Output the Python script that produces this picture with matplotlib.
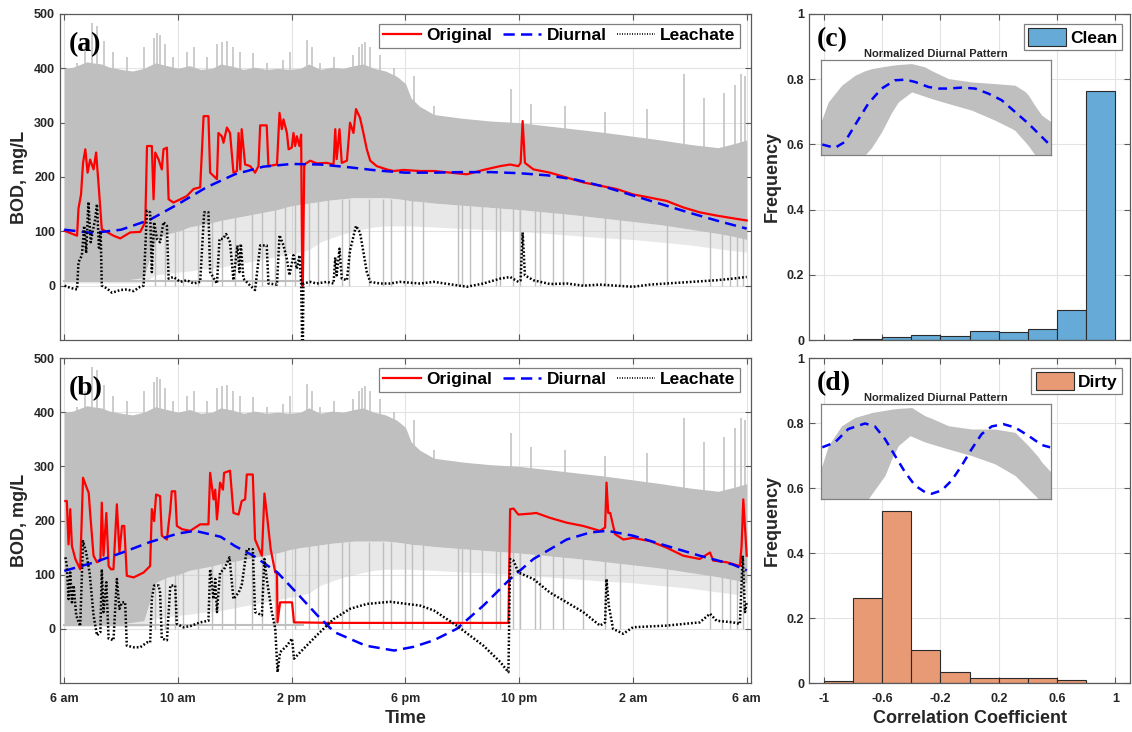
"""BOD time series with diurnal / leachate split and correlation histograms."""

import matplotlib
matplotlib.use('Agg')
import matplotlib.pyplot as plt
from matplotlib.patches import Patch
from matplotlib.lines import Line2D

plt.rcParams['font.family'] = ['Liberation Sans', 'DejaVu Sans']
plt.rcParams['font.weight'] = 'bold'

# ---------------- data (hours after 6 am) ----------------
# gray ensemble of daily profiles, as envelopes
gray_t = [0, 0.3, 0.6, 0.8, 1.0, 1.3, 1.6, 2.0, 2.4, 2.8, 3.2, 3.6, 4.0, 4.4, 4.8,
          5.2, 5.5, 5.9, 6.3, 6.7, 7.1, 7.5, 7.9, 8.3, 8.6, 9.0, 9.4, 9.8, 10.2, 10.5,
          10.9, 11.3, 11.7, 12.0, 12.2, 12.5, 13.0, 14.0, 15.0, 16.0, 17.0, 18.0, 19.0,
          20.0, 21.0, 22.0, 23.0, 23.6, 24.0]
gray_top = [400, 402, 408, 412, 410, 408, 402, 398, 395, 400, 410, 405, 400, 405, 398,
            400, 408, 404, 398, 402, 398, 400, 398, 400, 408, 398, 402, 400, 405, 408,
            400, 395, 385, 372, 345, 330, 315, 308, 303, 300, 294, 288, 282, 275, 268,
            260, 254, 262, 268]
gray_low = [10, 10, 10, 10, 10, 10, 10, 10, 12, 15, 85, 95, 100, 108, 112,
            116, 120, 124, 128, 132, 136, 140, 146, 150, 152, 155, 158, 160, 162, 162,
            162, 162, 160, 158, 156, 155, 152, 148, 144, 140, 135, 130, 124, 118, 112,
            104, 96, 90, 85]
gray_sparse = [5, 5, 5, 5, 5, 5, 5, 5, 5, 5, 20, 22, 25, 27, 30,
               32, 34, 38, 42, 46, 50, 54, 58, 62, 66, 80, 88, 95, 100, 104,
               108, 110, 110, 110, 110, 109, 108, 105, 103, 100, 96, 92, 88, 85, 80,
               75, 68, 64, 62]
floor_t = [0, 8.4]
floor_v = [8, 8]
spike_t = [0.45, 0.74, 0.97, 1.15, 1.38, 1.73, 2.20, 2.79, 3.14, 3.26, 3.37, 3.55, 3.84,
           4.31, 4.55, 5.01, 5.37, 5.54, 5.72, 5.95, 6.19, 6.65, 7.12, 7.71, 7.94, 8.53,
           8.71, 9.0, 9.47, 10.17, 10.35, 10.46, 10.58, 10.76, 11.11, 11.58, 12.3, 13.0,
           15.7, 16.4, 17.6, 19.0, 20.5, 21.8, 22.5, 23.2, 23.6, 23.8, 23.95]
spike_top = [410, 440, 483, 478, 450, 430, 420, 440, 455, 465, 462, 445, 420,
             430, 440, 420, 445, 448, 450, 440, 430, 428, 410, 415, 430, 452,
             440, 410, 420, 425, 440, 445, 448, 440, 425, 400, 385, 330,
             362, 335, 330, 320, 325, 390, 345, 355, 370, 390, 385]
drop_t = [3.20, 3.55, 3.90, 4.19, 4.72, 5.19, 5.54, 6.01, 6.60, 6.95, 7.42, 7.77,
          8.12, 8.59, 8.94, 9.29, 9.76, 10.0, 10.7, 11.2, 11.5, 12.0, 12.22, 12.63,
          13.86, 13.98, 14.27, 14.68, 15.20, 15.32, 15.79, 16.03, 16.55, 16.73, 17.20,
          17.55, 18.25, 19.02, 19.54, 21.18, 22.71, 23.12, 23.42, 23.65, 23.88]

# (a) clean day
a_orig_t = [0.01, 0.45, 0.50, 0.59, 0.66, 0.74, 0.82, 0.91, 1.03, 1.12, 1.21, 1.32, 1.73,
            1.97, 2.32, 2.67, 2.85, 2.91, 3.08, 3.14, 3.20, 3.32, 3.43, 3.49, 3.61, 3.67,
            3.84, 4.08, 4.31, 4.55, 4.78, 4.90, 5.07, 5.13, 5.37, 5.42, 5.54, 5.60, 5.72,
            5.83, 5.95, 6.07, 6.13, 6.19, 6.24, 6.36, 6.54, 6.71, 6.83, 6.89, 7.12, 7.18,
            7.48, 7.57, 7.65, 7.71, 7.83, 7.89, 8.00, 8.06, 8.12, 8.18, 8.27, 8.33, 8.37,
            8.39, 8.44, 8.65, 8.88, 9.23, 9.47, 9.53, 9.58, 9.68, 9.76, 9.94, 10.05, 10.17,
            10.26, 10.40, 10.52, 10.64, 10.76, 10.99, 11.34, 11.58, 11.93, 12.51, 13.0,
            14.16, 14.74, 15.33, 15.68, 15.97, 16.05, 16.12, 16.2, 16.5, 17.08, 17.67,
            18.25, 18.84, 19.42, 20.0, 20.6, 21.18, 21.77, 22.35, 22.94, 23.52, 24.0]
a_orig = [101, 92, 142, 168, 226, 251, 208, 232, 214, 245, 184, 104, 92,
          87, 98, 99, 117, 257, 257, 159, 245, 232, 214, 251, 254, 159,
          153, 159, 165, 178, 181, 312, 312, 208, 196, 281, 275, 263, 291,
          281, 208, 211, 281, 214, 288, 223, 220, 208, 220, 295, 295, 220,
          223, 318, 288, 306, 281, 251, 254, 281, 257, 275, 257, 278, 0,
          0, 223, 230, 225, 226, 223, 288, 233, 288, 226, 230, 300, 281,
          325, 309, 281, 251, 230, 220, 214, 211, 213, 211, 211,
          205, 213, 220, 223, 220, 226, 303, 226, 214, 208, 199,
          190, 184, 178, 168, 162, 156, 144, 135, 129, 124, 120]
a_diur_t = list(range(0, 25))
a_diur = [103, 97, 103, 121, 150, 181, 205, 219, 224, 223, 218, 212, 208,
          208, 209, 209, 207, 203, 195, 182, 166, 150, 134, 119, 105]
a_leach_t = [0.01, 0.21, 0.45, 0.50, 0.62, 0.70, 0.77, 0.85, 0.93, 1.00, 1.08, 1.15, 1.22,
             1.28, 1.32, 1.50, 1.68, 1.97, 2.20, 2.44, 2.67, 2.79, 2.91, 3.02, 3.08, 3.16,
             3.26, 3.37, 3.49, 3.61, 3.67, 3.84, 4.08, 4.31, 4.55, 4.78, 4.92, 5.07, 5.13,
             5.37, 5.46, 5.58, 5.69, 5.83, 5.95, 6.09, 6.16, 6.21, 6.30, 6.54, 6.71, 6.89,
             7.12, 7.18, 7.48, 7.57, 7.71, 7.83, 7.92, 8.06, 8.18, 8.27, 8.33, 8.37, 8.39,
             8.41, 8.65, 8.88, 9.23, 9.47, 9.53, 9.58, 9.68, 9.76, 9.94, 10.05, 10.26, 10.40,
             10.52, 10.64, 10.76, 11.11, 11.46, 11.81, 12.51, 13.0, 14.16, 14.74, 15.33,
             15.68, 15.97, 16.05, 16.12, 16.2, 16.5, 17.08, 17.67, 18.25, 18.84, 19.42,
             20.0, 20.6, 21.18, 21.77, 22.35, 22.94, 23.52, 24.0]
a_leach = [0, -4, -7, 43, 56, 110, 60, 154, 80, 100, 120, 150, 70,
           100, 0, -5, -13, -8, -7, -10, -2, 0, 138, 135, 25, 117,
           86, 80, 117, 110, 13, 16, 7, 10, 4, 7, 135, 135, 25,
           4, 86, 86, 95, 80, 10, 74, 25, 77, 13, 0, -8, 74,
           74, 4, 2, 93, 74, 49, 19, 56, 31, 56, 7, -120, -120,
           4, 7, 4, 7, 4, 52, 19, 68, 13, 10, 65, 110, 98,
           62, 25, 7, 4, 4, 7, 4, 7, -2, 4, 13,
           16, 7, 10, 98, 19, 10, 3, 4, 0, 2, 0,
           -2, 2, 4, 6, 8, 10, 13, 16]

# (b) dirty day
b_orig_t = [0.04, 0.09, 0.15, 0.21, 0.27, 0.39, 0.56, 0.66, 0.77, 0.86, 0.91, 1.03, 1.15,
            1.27, 1.32, 1.38, 1.48, 1.56, 1.64, 1.73, 1.85, 1.94, 2.03, 2.11, 2.20, 2.44,
            2.79, 3.02, 3.08, 3.16, 3.23, 3.37, 3.43, 3.61, 3.73, 3.78, 3.90, 3.96, 4.14,
            4.43, 4.78, 5.07, 5.13, 5.25, 5.31, 5.37, 5.48, 5.58, 5.62, 5.83, 5.95, 6.13,
            6.24, 6.36, 6.42, 6.63, 6.71, 6.95, 7.04, 7.12, 7.26, 7.42, 7.48, 7.50, 7.59,
            8.01, 8.08, 9.47, 12.51, 15.62, 15.68, 15.8, 15.97, 16.45, 16.6, 17.08, 17.67,
            18.25, 18.84, 19.02, 19.07, 19.13, 19.2, 19.37, 19.66, 20.0, 20.6, 21.18,
            21.77, 22.35, 22.71, 22.82, 23.29, 23.76, 23.82, 23.88, 24.0]
b_orig = [236, 236, 156, 221, 153, 129, 110, 279, 263, 251, 214, 135, 123,
          126, 233, 135, 214, 116, 110, 110, 230, 141, 190, 190, 98, 95,
          104, 116, 221, 199, 248, 245, 172, 165, 221, 254, 254, 190, 184,
          181, 193, 193, 288, 239, 257, 202, 270, 257, 288, 292, 214, 211,
          236, 239, 285, 285, 165, 135, 250, 214, 147, 104, 104, 12, 49,
          49, 12, 11, 11, 11, 221, 222, 211, 213, 214, 205, 196,
          190, 181, 187, 270, 214, 214, 175, 165, 168, 162, 150,
          135, 129, 141, 126, 123, 116, 153, 239, 135]
b_diur_t = [0, 1, 2, 3, 4, 4.6, 5.5, 6, 6.65, 7.5, 8.2, 8.9, 9.5, 10.6, 11.6, 12.3,
            13, 13.8, 14.74, 15.68, 16.5, 17.67, 18.5, 19.1, 20, 21.2, 22.35, 23.5, 24]
b_diur = [107, 122, 140, 160, 176, 181, 170, 153, 135, 104, 65, 25, -6, -31, -40, -33,
          -21, 0, 43, 92, 129, 165, 178, 181, 172, 153, 135, 119, 108]
b_leach_t = [0.04, 0.09, 0.15, 0.21, 0.27, 0.33, 0.42, 0.56, 0.66, 0.77, 0.89, 1.03, 1.15,
             1.27, 1.32, 1.38, 1.48, 1.56, 1.73, 1.85, 1.94, 2.03, 2.14, 2.20, 2.44, 2.67,
             2.91, 3.02, 3.08, 3.16, 3.32, 3.37, 3.43, 3.61, 3.73, 3.90, 3.96, 4.19, 4.43,
             4.78, 5.07, 5.13, 5.25, 5.31, 5.37, 5.48, 5.62, 5.81, 5.95, 6.13, 6.24, 6.42,
             6.63, 6.71, 6.95, 7.04, 7.12, 7.30, 7.42, 7.50, 7.59, 7.83, 8.01, 8.08, 8.30,
             8.88, 9.47, 10.05, 10.64, 11.46, 12.51, 13.0, 13.8, 14.74, 15.33, 15.62, 15.68,
             15.8, 15.97, 16.5, 17.08, 17.67, 18.25, 18.84, 19.02, 19.07, 19.15, 19.3,
             19.66, 20.0, 21.18, 22.35, 22.71, 22.94, 23.52, 23.76, 23.86, 23.94, 24.0]
b_leach = [132, 116, 55, 104, 49, 80, 25, 5, 162, 141, 104, 25, -12,
           -6, 110, 31, 86, -18, -21, 92, 37, 49, 49, -31, -34, -34,
           -25, -25, 55, 80, 80, 67, -18, -21, 80, 80, 9, 3, 5,
           12, 15, 110, 55, 92, 31, 104, 110, 132, 55, 67, 80, 147,
           147, 31, 25, 129, 92, 31, 0, -80, -43, -31, -18, -55, -43,
           -12, 18, 37, 46, 50, 43, 34, 6, -31, -61, -80, 129,
           126, 104, 92, 67, 49, 31, 6, 12, 92, 43, 0,
           -9, 3, 6, 12, 28, 15, 12, 9, 135, 31, 49]

time_ticks = [0, 4, 8, 12, 16, 20, 24]
time_labels = ['6 am', '10 am', '2 pm', '6 pm', '10 pm', '2 am', '6 am']

# histograms of correlation coefficient
bin_edges = [-1.0, -0.8, -0.6, -0.4, -0.2, 0.0, 0.2, 0.4, 0.6, 0.8, 1.0]
clean_freq = [0.0, 0.004, 0.009, 0.014, 0.012, 0.028, 0.024, 0.033, 0.092, 0.765]
dirty_freq = [0.006, 0.261, 0.528, 0.101, 0.034, 0.015, 0.017, 0.017, 0.008, 0.0]

# inset normalized patterns (x: hours, y: fraction of inset height)
c_band_t = [0, 0.77, 2.16, 3.55, 4.59, 5.29, 6.33, 7.37, 8.07, 9.46, 10.85, 11.55,
            13.29, 15.72, 18.16, 19.89, 20.24, 21.29, 21.63, 22.33, 23.03, 24]
c_band_hi = [0.351, 0.561, 0.737, 0.842, 0.89, 0.912, 0.93, 0.947, 0.955, 0.965, 0.93, 0.89,
             0.807, 0.772, 0.754, 0.74, 0.737, 0.67, 0.632, 0.52, 0.421, 0.351]
c_band_lo = [0, 0, 0, 0, 0, 0.08, 0.246, 0.45, 0.561, 0.667, 0.62, 0.596,
             0.544, 0.474, 0.368, 0.281, 0.26, 0.14, 0.1, 0, 0, 0]
c_pat_t = [0.14, 1.46, 2.50, 3.55, 4.94, 6.33, 7.72, 8.77, 9.81, 11.2, 12.24, 13.29,
           14.68, 16.07, 17.46, 18.85, 20.24, 21.63, 23.03, 23.9]
c_pat = [0.112, 0.077, 0.140, 0.316, 0.544, 0.702, 0.789, 0.796, 0.772, 0.719, 0.702,
         0.702, 0.712, 0.702, 0.649, 0.579, 0.456, 0.333, 0.193, 0.105]
d_band_t = [0, 0.77, 2.16, 3.55, 4.94, 5.29, 6.68, 7.37, 8.07, 9.29, 9.46, 10.85, 11.55,
            13.29, 15.72, 18.16, 20.24, 21.63, 22.68, 23.03, 24]
d_band_hi = [0.316, 0.561, 0.772, 0.86, 0.9, 0.912, 0.935, 0.947, 0.955, 0.963, 0.965, 0.877,
             0.85, 0.772, 0.737, 0.737, 0.702, 0.561, 0.44, 0.386, 0.281]
d_band_lo = [0, 0, 0, 0, 0, 0.05, 0.246, 0.42, 0.561, 0.667, 0.66, 0.6, 0.579,
             0.526, 0.456, 0.368, 0.246, 0.105, 0, 0, 0]
d_pat_t = [0.14, 1.46, 2.85, 4.59, 5.63, 6.68, 7.72, 8.77, 9.81, 10.85, 11.55, 12.59,
           13.63, 14.68, 15.72, 16.76, 17.81, 19.02, 20.24, 21.63, 23.03, 23.9]
d_pat = [0.544, 0.596, 0.737, 0.796, 0.765, 0.632, 0.456, 0.281, 0.14, 0.07, 0.053, 0.088,
         0.193, 0.351, 0.526, 0.684, 0.765, 0.789, 0.754, 0.667, 0.568, 0.544]

# ---------------- styling ----------------
GRAY = '#bfbfbf'
FRAME = '#5a5a5a'
TXT = '#262626'
CLEAN = '#66aad7'
DIRTY = '#e89a75'
DOT = (0, (0.7, 0.8))


def style_axes(ax):
    ax.tick_params(direction='in', top=True, right=True, length=4, width=0.8,
                   color=FRAME, labelsize=9, labelcolor=TXT)
    ax.tick_params(axis='x', pad=7)
    for s in ax.spines.values():
        s.set_color(FRAME)
        s.set_linewidth(0.9)
    ax.grid(True, color='#e3e3e3', linewidth=0.8)
    ax.set_axisbelow(True)
    for lab in ax.get_xticklabels() + ax.get_yticklabels():
        lab.set_fontweight('bold')


def time_panel(ax, orig_t, orig, diur_t, diur, leach_t, leach, label, show_x):
    ax.fill_between(gray_t, gray_sparse, gray_low, color=GRAY, alpha=0.35, lw=0, zorder=1)
    ax.fill_between(gray_t, gray_low, gray_top, color=GRAY, lw=0, zorder=1)
    ax.plot(floor_t, floor_v, color=GRAY, lw=1.5, zorder=1)
    ax.vlines(drop_t, 0, 160, color=GRAY, lw=1, zorder=1)
    ax.vlines(spike_t, 250, spike_top, color=GRAY, lw=1.1, zorder=1)
    ax.plot(orig_t, orig, color='#ff0000', lw=1.6, zorder=3, label='Original')
    ax.plot(diur_t, diur, color='#0000ff', lw=1.8, ls=(0, (4.5, 2.5)), zorder=4,
            label='Diurnal')
    ax.plot(leach_t, leach, color='black', lw=1.8, ls=DOT, zorder=5,
            label='Leachate')
    ax.set_xlim(-0.15, 24.15)
    ax.set_ylim(-100, 500)
    ax.set_yticks(range(0, 501, 100))
    ax.set_xticks(time_ticks)
    if show_x:
        ax.set_xticklabels(time_labels)
        ax.set_xlabel('Time', fontsize=13, fontweight='bold', color=TXT, labelpad=4)
    else:
        ax.set_xticklabels([])
    ax.set_ylabel('BOD, mg/L', fontsize=13, fontweight='bold', color=TXT, labelpad=4)
    style_axes(ax)
    ax.text(0.013, 0.905, label, transform=ax.transAxes, va='center', ha='left',
            fontsize=20, fontweight='bold', family='Liberation Serif', zorder=6)
    handles = [Line2D([], [], color='#ff0000', lw=1.6),
               Line2D([], [], color='#0000ff', lw=1.8, ls=(0, (4.5, 2.5))),
               Line2D([], [], color='black', lw=1.2, ls=(0, (0.6, 0.9)))]
    leg = ax.legend(handles, ['Original', 'Diurnal', 'Leachate'], ncol=3,
                    loc='upper right', bbox_to_anchor=(0.984, 0.97), borderaxespad=0,
                    prop={'size': 12.5, 'weight': 'bold'}, handlelength=2.2,
                    handletextpad=0.3, columnspacing=0.6, borderpad=0.25,
                    fancybox=False, framealpha=1, edgecolor='#7f7f7f')
    leg.get_frame().set_linewidth(0.9)
    leg.set_zorder(7)


def hist_panel(ax, freq, color, name, label, show_x, band_t, band_lo, band_hi,
               pat_t, pat):
    ax.bar(bin_edges[:-1], freq, width=0.2, align='edge', color=color,
           edgecolor='#2b2b2b', linewidth=0.8, zorder=2)
    ax.set_xlim(-1.1, 1.1)
    ax.set_ylim(0, 1)
    ax.set_xticks([-1, -0.6, -0.2, 0.2, 0.6, 1])
    ax.set_yticks([0, 0.2, 0.4, 0.6, 0.8, 1])
    ax.set_yticklabels(['0', '0.2', '0.4', '0.6', '0.8', '1'])
    if show_x:
        ax.set_xticklabels(['-1', '-0.6', '-0.2', '0.2', '0.6', '1'])
        ax.set_xlabel('Correlation Coefficient', fontsize=13, fontweight='bold',
                      color=TXT, labelpad=4)
    else:
        ax.set_xticklabels([])
    ax.set_ylabel('Frequency', fontsize=13, fontweight='bold', color=TXT, labelpad=4)
    style_axes(ax)
    ax.text(0.025, 0.92, label, transform=ax.transAxes, va='center', ha='left',
            fontsize=20, fontweight='bold', family='Liberation Serif')
    leg = ax.legend([Patch(facecolor=color, edgecolor='#2b2b2b', lw=0.8)], [name],
                    loc='upper right', bbox_to_anchor=(0.975, 0.969), borderaxespad=0,
                    prop={'size': 12.5, 'weight': 'bold'}, handlelength=2.2,
                    handleheight=1.15, handletextpad=0.25, borderpad=0.25,
                    fancybox=False, framealpha=1, edgecolor='#7f7f7f')
    leg.get_frame().set_linewidth(0.9)

    ins = ax.inset_axes([0.037, 0.567, 0.717, 0.291])
    ins.fill_between(band_t, band_lo, band_hi, color=GRAY, lw=0)
    ins.plot(pat_t, pat, color='#0000ff', lw=1.8, ls=(0, (3.5, 2.5)))
    ins.set_xlim(0, 24)
    ins.set_ylim(0, 1)
    ins.set_xticks([])
    ins.set_yticks([])
    for s in ins.spines.values():
        s.set_color('#808080')
        s.set_linewidth(0.9)
    ins.set_title('Normalized Diurnal Pattern', fontsize=8, fontweight='bold',
                  color=TXT, pad=2.5)


fig = plt.figure(figsize=(11.32, 7.32), dpi=100)
ax_a = fig.add_axes([0.0530, 0.5355, 0.6104, 0.4454])
ax_b = fig.add_axes([0.0530, 0.0669, 0.6104, 0.4440])
ax_c = fig.add_axes([0.7147, 0.5355, 0.2836, 0.4454])
ax_d = fig.add_axes([0.7147, 0.0669, 0.2836, 0.4440])

time_panel(ax_a, a_orig_t, a_orig, a_diur_t, a_diur, a_leach_t, a_leach, '(a)', False)
time_panel(ax_b, b_orig_t, b_orig, b_diur_t, b_diur, b_leach_t, b_leach, '(b)', True)
hist_panel(ax_c, clean_freq, CLEAN, 'Clean', '(c)', False,
           c_band_t, c_band_lo, c_band_hi, c_pat_t, c_pat)
hist_panel(ax_d, dirty_freq, DIRTY, 'Dirty', '(d)', True,
           d_band_t, d_band_lo, d_band_hi, d_pat_t, d_pat)

fig.savefig('out.png', dpi=100)
